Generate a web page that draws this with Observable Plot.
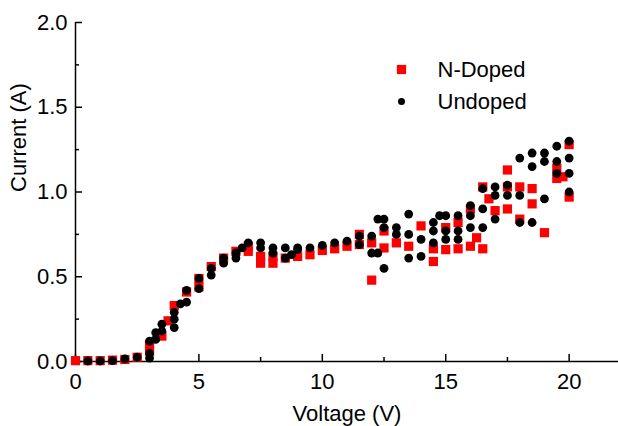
<!DOCTYPE html>
<html><head><meta charset="utf-8">
<script src="https://cdn.jsdelivr.net/npm/d3@7"></script>
<script src="https://cdn.jsdelivr.net/npm/@observablehq/plot@0.6"></script>
<style>html,body{margin:0;padding:0;background:#fff;}</style>
</head><body><div id="chart"></div>
<script>
// N-Doped series (red squares)
const nDopedV = [0,0.5,1,1.5,2,2.5,3,3,3.5,3.75,4,4.5,5,5,5.5,6,6.5,7,7,7.5,7.5,8,8,8.5,9,9.5,10,10.5,11,11.5,11.5,12,12,12.5,12.5,13,13.5,14,14.5,14.5,15,15,15.5,15.5,16,16,16.25,16.5,16.5,16.75,17,17.5,17.5,17.5,18,18,18.5,18.5,19,19.5,19.5,19.75,20,20];
const nDopedI = [0.005,0.005,0.005,0.008,0.012,0.025,0.06,0.1,0.15,0.24,0.33,0.41,0.44,0.49,0.56,0.61,0.65,0.65,0.68,0.58,0.62,0.58,0.62,0.61,0.62,0.63,0.655,0.665,0.68,0.75,0.69,0.70,0.48,0.77,0.67,0.70,0.68,0.80,0.665,0.59,0.66,0.79,0.82,0.665,0.90,0.68,0.73,0.665,1.03,0.96,0.89,1.13,1.03,0.90,1.03,0.84,1.02,0.93,0.76,1.14,1.08,1.09,1.28,0.97];
// Undoped series (black circles)
const undopedV = [0.5,1,1.5,2,2.5,3,3,3,3.25,3.25,3.5,3.5,4,4,4,4.25,4.5,4.5,5,5,5.5,5.5,6,6,6.5,6.5,6.75,7,7.5,7.5,8,8,8.5,8.5,8.75,9,9,9.5,10,10.5,11,11.5,11.5,12,12,12.25,12.25,12.5,12.5,12.5,13,13,13.5,13.5,13.5,14,14,14.5,14.5,14.5,14.75,15,15,15,15.5,15.5,15.5,16,16,16,16.5,16.5,16.5,17,17,17,17.5,17.5,18,18,18,18.5,18.5,18.5,19,19,19,19.5,19.5,19.5,20,20,20,20];
const undopedI = [0.003,0.003,0.005,0.015,0.025,0.02,0.05,0.12,0.17,0.13,0.18,0.22,0.20,0.25,0.29,0.34,0.35,0.42,0.43,0.49,0.51,0.55,0.58,0.61,0.61,0.64,0.67,0.70,0.67,0.70,0.64,0.67,0.61,0.67,0.63,0.66,0.67,0.67,0.685,0.70,0.71,0.74,0.69,0.74,0.64,0.64,0.84,0.84,0.79,0.55,0.79,0.75,0.87,0.75,0.61,0.72,0.62,0.82,0.77,0.70,0.86,0.86,0.77,0.72,0.86,0.77,0.72,0.92,0.86,0.79,0.90,0.79,1.02,1.03,0.98,0.84,1.04,0.98,1.20,0.98,0.82,1.23,1.15,0.82,1.23,1.18,0.96,1.27,1.18,1.11,1.30,1.20,1.11,1.00];

const xTicks = [0,5,10,15,20];
const xMinor = [2.5,7.5,12.5,17.5];
const yTicks = [0,0.5,1.0,1.5,2.0];
const yMinor = [0.25,0.75,1.25,1.75];
const seriesNames = ["N-Doped","Undoped"];
const seriesColors = ["#ff0000","#000000"];
const xLabel = "Voltage (V)";
const yLabel = "Current (A)";

const nDoped = nDopedV.map((v,i)=>({v, c:nDopedI[i]}));
const undoped = undopedV.map((v,i)=>({v, c:undopedI[i]}));

const font = "Arial, 'Liberation Sans', sans-serif";
const chart = Plot.plot({
  width:618, height:426,
  marginTop:22, marginLeft:75, marginRight:0, marginBottom:65,
  style:{fontFamily:font, fontSize:"22px", color:"#000", background:"#fff", overflow:"visible"},
  x:{domain:[0,22]},
  y:{domain:[0,2]},
  marks:[
    Plot.axisX(xTicks, {tickSize:0, tickPadding:12, label:null}),
    Plot.axisY(yTicks, {tickSize:0, tickPadding:8, tickFormat:d3.format(".1f"), label:null}),
    Plot.ruleX([0], {stroke:"#000", strokeWidth:1.5}),
    Plot.ruleY([0], {stroke:"#000", strokeWidth:1.5}),
    Plot.ruleX(xTicks, {x:d=>d, y1:0, y2:0, insetTop:-7, stroke:"#000", strokeWidth:1.5}),
    Plot.ruleX(xMinor, {x:d=>d, y1:0, y2:0, insetTop:-4, stroke:"#000", strokeWidth:1.5}),
    Plot.ruleY(yTicks, {y:d=>d, x1:0, x2:0, insetRight:-7, stroke:"#000", strokeWidth:1.5}),
    Plot.ruleY(yMinor, {y:d=>d, x1:0, x2:0, insetRight:-4, stroke:"#000", strokeWidth:1.5}),
    Plot.dot(nDoped, {x:"v", y:"c", symbol:"square", r:5.2, fill:seriesColors[0], stroke:null}),
    Plot.dot(undoped, {x:"v", y:"c", symbol:"circle", r:4.4, fill:seriesColors[1], stroke:null}),
    Plot.dot([seriesNames[0]], {frameAnchor:"top-left", dx:326, dy:47, symbol:"square", r:5.2, fill:seriesColors[0]}),
    Plot.dot([seriesNames[1]], {frameAnchor:"top-left", dx:326, dy:79, symbol:"circle", r:3.5, fill:seriesColors[1]}),
    Plot.text([seriesNames[0]], {text:d=>d, frameAnchor:"top-left", dx:362, dy:47, textAnchor:"start", lineAnchor:"middle", fontSize:22}),
    Plot.text([seriesNames[1]], {text:d=>d, frameAnchor:"top-left", dx:362, dy:79, textAnchor:"start", lineAnchor:"middle", fontSize:22}),
    Plot.text([xLabel], {text:d=>d, frameAnchor:"bottom", dy:59, lineAnchor:"bottom", fontSize:22}),
    Plot.text([yLabel], {text:d=>d, frameAnchor:"left", dx:-50, rotate:-90, lineAnchor:"bottom", fontSize:22})
  ]
});
document.getElementById("chart").appendChild(chart);
</script>
</body></html>
